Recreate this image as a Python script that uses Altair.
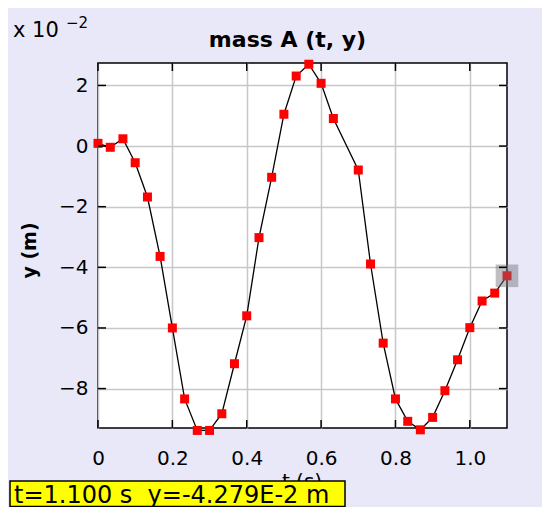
import altair as alt
import pandas as pd

# time (s)
t_vals = [0.0, 0.033, 0.067, 0.1, 0.133, 0.167, 0.2, 0.233, 0.267, 0.3, 0.333,
          0.367, 0.4, 0.433, 0.467, 0.5, 0.533, 0.567, 0.6, 0.633, 0.7, 0.733,
          0.767, 0.8, 0.833, 0.867, 0.9, 0.933, 0.967, 1.0, 1.033, 1.067, 1.1]
# y position (x 10^-2 m)
y_vals = [0.09, -0.04, 0.24, -0.55, -1.68, -3.64, -6.0, -8.34, -9.38, -9.38, -8.83,
          -7.18, -5.60, -3.02, -1.03, 1.05, 2.31, 2.70, 2.07, 0.91, -0.79, -3.89,
          -6.50, -8.34, -9.08, -9.36, -8.95, -8.07, -7.05, -5.99, -5.11, -4.85, -4.279]
x_ticks = [0, 0.2, 0.4, 0.6, 0.8, 1.0]
y_ticks = [-8, -6, -4, -2, 0, 2]

W, H = 409, 365
df = pd.DataFrame({"t": t_vals, "y": y_vals})
last = df.tail(1).copy()
last["label"] = f"t={t_vals[-1]:.3f} s\u00a0\u00a0y={y_vals[-1]:.3f}E-2 m"
one = pd.DataFrame({"a": [0]})
xt = pd.DataFrame({"v": x_ticks})
yt = pd.DataFrame({"v": y_ticks})

xs = alt.Scale(domain=[0, 1.1], nice=False, zero=False)
ys = alt.Scale(domain=[-9.3, 2.74], nice=False, zero=False)

FONT = "DejaVu Sans"
x_axis = alt.Axis(values=x_ticks, title="t (s)", ticks=False, tickSize=0, domain=False,
                  labelExpr="datum.value == 0 ? '0' : format(datum.value, '.1f')",
                  labelFontSize=20, labelFont=FONT, labelColor="black", labelFlush=False,
                  labelBaseline="alphabetic", labelPadding=36,
                  titleFont=FONT, titleFontSize=20, titleFontWeight="normal",
                  titleColor="black", titleX=203.5, titleY=59,
                  titleBaseline="alphabetic", titleAlign="center",
                  gridColor="#c8c8c8", gridWidth=1.5)
y_axis = alt.Axis(values=y_ticks, title="y (m)", ticks=False, tickSize=0, domain=False,
                  labelFontSize=20, labelFont=FONT, labelColor="black", labelFlush=False,
                  labelPadding=10, labelBaseline="middle",
                  titleFont=FONT, titleFontSize=19, titleFontWeight="bold",
                  titleColor="black", titleAngle=270, titleX=-69, titleY=187,
                  titleAlign="center", titleBaseline="middle",
                  gridColor="#c8c8c8", gridWidth=1.5)

X = alt.X("t:Q", scale=xs, axis=x_axis)
Y = alt.Y("y:Q", scale=ys, axis=y_axis)

line = alt.Chart(df).mark_line(color="black", strokeWidth=1.3).encode(x=X, y=Y)
pts = alt.Chart(df).mark_square(color="#ff0000", size=81, opacity=1).encode(x=X, y=Y)
hl = alt.Chart(last).mark_square(color="#707078", size=511, opacity=0.45).encode(x=X, y=Y)

XV = alt.X("v:Q", scale=xs, axis=x_axis)
YV = alt.Y("v:Q", scale=ys, axis=y_axis)
tk_top = alt.Chart(xt).mark_rule(color="black", strokeWidth=1.5).encode(
    x=XV, y=alt.value(0), y2=alt.value(8))
tk_bot = alt.Chart(xt).mark_rule(color="black", strokeWidth=1.5).encode(
    x=XV, y=alt.value(H - 8), y2=alt.value(H))
tk_left = alt.Chart(yt).mark_rule(color="black", strokeWidth=1.5).encode(
    y=YV, x=alt.value(0), x2=alt.value(8))
tk_right = alt.Chart(yt).mark_rule(color="black", strokeWidth=1.5).encode(
    y=YV, x=alt.value(W - 8), x2=alt.value(W))

title = alt.Chart(one).mark_text(font=FONT, fontSize=22, fontWeight="bold", color="black",
                                 align="center", baseline="alphabetic").encode(
    x=alt.value(189.5), y=alt.value(-16.3), text=alt.value("mass A (t, y)"))
mult = alt.Chart(one).mark_text(font=FONT, fontSize=21, color="black",
                                align="left", baseline="alphabetic").encode(
    x=alt.value(-85), y=alt.value(-25.7), text=alt.value("x 10"))
sup = alt.Chart(one).mark_text(font=FONT, fontSize=15, color="black",
                               align="left", baseline="alphabetic").encode(
    x=alt.value(-32), y=alt.value(-35), text=alt.value("\u22122"))

box = alt.Chart(one).mark_rect(fill="#ffff00", stroke="black", strokeWidth=1.5).encode(
    x=alt.value(-88), x2=alt.value(247), y=alt.value(418), y2=alt.value(443.5))
readout = alt.Chart(last).mark_text(font=FONT, fontSize=24, color="black",
                                    align="left", baseline="alphabetic").encode(
    x=alt.value(-84), y=alt.value(439.5), text="label:N")

chart = alt.layer(line, pts, hl, tk_top, tk_bot, tk_left, tk_right,
                  title, mult, sup, box, readout).properties(
    width=W, height=H,
    autosize=alt.AutoSizeParams(type="none"),
    padding={"left": 90, "top": 55, "right": 35, "bottom": 79},
    background="#e8e8f8",
).configure_view(stroke="black", strokeWidth=1.5, fill="white")

chart.save("out.html", embed_options={"renderer": "svg", "actions": False})
